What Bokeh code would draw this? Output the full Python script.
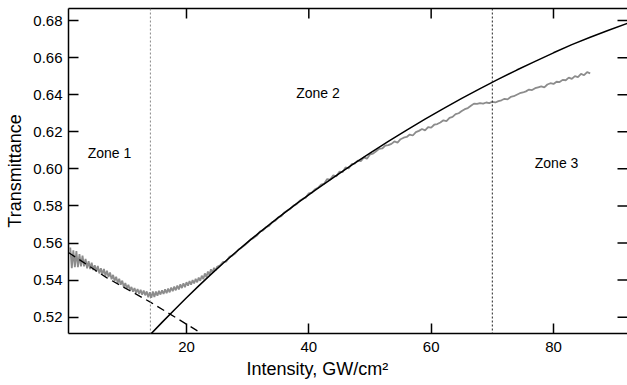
from bokeh.plotting import figure
from bokeh.models import Range1d, LinearAxis, FixedTicker, Label, Span, PrintfTickFormatter, Title
from bokeh.embed import file_html
from bokeh.resources import INLINE

# ---- data ----
x_ticks = [20, 40, 60, 80]
y_ticks = [0.52, 0.54, 0.56, 0.58, 0.60, 0.62, 0.64, 0.66, 0.68]

x_min, x_max = 0.71, 92.1
y_min, y_max = 0.5112, 0.6865

zone_bounds = [14.1, 70.0]
zone_names = ["Zone 1", "Zone 2", "Zone 3"]
zone_label_x = [7.4, 41.5, 80.5]
zone_label_y = [0.6086, 0.6409, 0.6032]

# measured transmittance (grey): every 0.25 GW/cm2 from 1.0 to 24.75 ...
gray1_start, gray1_step = 1.0, 0.25
gray1_y = [
    0.5576, 0.5464, 0.5561, 0.5470, 0.5556, 0.5470, 0.5540, 0.5474,
    0.5532, 0.5474, 0.5514, 0.5464, 0.5502, 0.5460, 0.5494, 0.5454,
    0.5480, 0.5445, 0.5476, 0.5436, 0.5464, 0.5431, 0.5460, 0.5424,
    0.5451, 0.5417, 0.5441, 0.5405, 0.5428, 0.5395, 0.5418, 0.5385,
    0.5407, 0.5375, 0.5397, 0.5363, 0.5384, 0.5355, 0.5375, 0.5345,
    0.5363, 0.5338, 0.5357, 0.5331, 0.5352, 0.5326, 0.5348, 0.5321,
    0.5344, 0.5318, 0.5339, 0.5308, 0.5335, 0.5305, 0.5339, 0.5309,
    0.5338, 0.5316, 0.5342, 0.5322, 0.5345, 0.5325, 0.5350, 0.5330,
    0.5354, 0.5334, 0.5360, 0.5340, 0.5365, 0.5345, 0.5371, 0.5350,
    0.5377, 0.5357, 0.5383, 0.5362, 0.5389, 0.5370, 0.5395, 0.5375,
    0.5400, 0.5382, 0.5407, 0.5388, 0.5414, 0.5396, 0.5424, 0.5405,
    0.5436, 0.5416, 0.5446, 0.5428, 0.5458, 0.5440, 0.5466, 0.5452,
]
# ... then every 0.5 GW/cm2 from 25.0 to 86.0
gray2_start, gray2_step = 25.0, 0.5
gray2_y = [
    0.5472, 0.5480,
    0.5498, 0.5500, 0.5525, 0.5532, 0.5545, 0.5565, 0.5575, 0.5588, 0.5602, 0.5620,
    0.5628, 0.5640, 0.5662, 0.5668, 0.5685, 0.5692, 0.5712, 0.5720, 0.5738, 0.5745,
    0.5765, 0.5775, 0.5785, 0.5802, 0.5810, 0.5828, 0.5838, 0.5845, 0.5868, 0.5872,
    0.5890, 0.5898, 0.5915, 0.5920, 0.5945, 0.5942, 0.5965, 0.5960, 0.5985, 0.5982,
    0.6008, 0.6002, 0.6025, 0.6028, 0.6045, 0.6042, 0.6062, 0.6055, 0.6078, 0.6082,
    0.6095, 0.6108, 0.6110, 0.6125, 0.6128, 0.6135, 0.6148, 0.6142, 0.6160, 0.6168,
    0.6172, 0.6185, 0.6180, 0.6198, 0.6205, 0.6215, 0.6208, 0.6225, 0.6222, 0.6238,
    0.6242, 0.6250, 0.6262, 0.6258, 0.6275, 0.6280, 0.6295, 0.6300, 0.6312, 0.6322,
    0.6328, 0.6340, 0.6352, 0.6350, 0.6355, 0.6352, 0.6358, 0.6355, 0.6362, 0.6358,
    0.6365, 0.6370, 0.6378, 0.6375, 0.6388, 0.6392, 0.6400, 0.6408, 0.6412, 0.6418,
    0.6428, 0.6425, 0.6435, 0.6440, 0.6445, 0.6440, 0.6455, 0.6462, 0.6458, 0.6470,
    0.6468, 0.6480, 0.6478, 0.6492, 0.6485, 0.6500, 0.6495, 0.6512, 0.6505, 0.6522,
    0.6515,
]
gray_x = ([round(gray1_start + gray1_step * i, 3) for i in range(len(gray1_y))]
          + [round(gray2_start + gray2_step * i, 3) for i in range(len(gray2_y))])
gray_y = gray1_y + gray2_y

# model fit (solid black)
fit_x = [14.2, 16, 18, 20, 22, 24, 26, 28, 30, 32, 35, 38, 41, 44, 47, 50, 53, 56,
         59, 62, 65, 68, 71, 74, 77, 80, 83, 86, 89, 92.5]
fit_y = [0.5110, 0.5172, 0.5239, 0.5305, 0.5369, 0.5431, 0.5491, 0.5549, 0.5605,
         0.5659, 0.5737, 0.5812, 0.5884, 0.5953, 0.6020, 0.6085, 0.6148, 0.6209,
         0.6268, 0.6325, 0.6380, 0.6433, 0.6484, 0.6533, 0.6580, 0.6626, 0.6670,
         0.6710, 0.6748, 0.6790]

# low-intensity fit (dashed)
dash_x = [0.7, 7.0, 14.1, 23.0]
dash_y = [0.5549, 0.5412, 0.5281, 0.5102]

x_label = "Intensity, GW/cm\u00b2"
y_label = "Transmittance"

FONT = "Liberation Sans"

p = figure(width=627, height=385, output_backend="svg", toolbar_location=None,
           x_range=Range1d(x_min, x_max), y_range=Range1d(y_min, y_max),
           min_border_left=68, min_border_right=0, min_border_top=8, min_border_bottom=52)
p.outline_line_color = None
p.xgrid.visible = False
p.ygrid.visible = False
p.background_fill_color = "white"
p.border_fill_color = "white"

def style_axis(ax):
    ax.axis_line_color = "black"
    ax.axis_line_width = 1.5
    ax.major_tick_line_color = "black"
    ax.major_tick_line_width = 1.5
    ax.major_tick_in = 10
    ax.major_tick_out = 0
    ax.minor_tick_line_color = None
    ax.major_label_text_font = FONT
    ax.major_label_text_color = "black"
    ax.major_label_text_font_size = "15px"

xa = p.xaxis[0]
xa.ticker = FixedTicker(ticks=x_ticks)
style_axis(xa)
xa.major_label_standoff = 8

ya = p.yaxis[0]
ya.ticker = FixedTicker(ticks=y_ticks)
ya.formatter = PrintfTickFormatter(format="%.2f")
style_axis(ya)
ya.major_label_standoff = 6
ya.axis_label = y_label
ya.axis_label_text_font = FONT
ya.axis_label_text_font_size = "18px"
ya.axis_label_text_font_style = "normal"
ya.axis_label_text_color = "black"
ya.axis_label_standoff = 5

# top frame line (no labels)
top = LinearAxis(ticker=FixedTicker(ticks=[]))
top.axis_line_color = "black"
top.axis_line_width = 1.5
top.major_tick_line_color = None
top.minor_tick_line_color = None
top.major_label_standoff = 0
p.add_layout(top, "above")

# mirrored inward ticks on top and right
p.ray(x=x_ticks, y=[y_max] * len(x_ticks), length=10, angle=-90, angle_units="deg",
      length_units="screen", line_color="black", line_width=1.5)
p.ray(x=[x_max] * len(y_ticks), y=y_ticks, length=10, angle=180, angle_units="deg",
      length_units="screen", line_color="black", line_width=1.5)

# x-axis title
p.add_layout(Title(text=x_label, align="left", offset=178, text_font=FONT,
                   text_font_size="18px", text_font_style="normal", text_color="black",
                   standoff=5), "below")

# zone boundaries
p.add_layout(Span(location=zone_bounds[0], dimension="height", line_color="#888888",
                  line_width=1, line_dash="2 2"))
p.add_layout(Span(location=zone_bounds[1], dimension="height", line_color="#222222",
                  line_width=1, line_dash="2 2"))

p.line(gray_x, gray_y, line_color="#8c8c8c", line_width=1.8)
p.line(dash_x, dash_y, line_color="black", line_width=1.3, line_dash="8 5")
p.line(fit_x, fit_y, line_color="black", line_width=1.5)

for name, zx, zy in zip(zone_names, zone_label_x, zone_label_y):
    p.add_layout(Label(x=zx, y=zy, text=name, text_align="center", text_baseline="middle",
                       text_font=FONT, text_font_size="14px", text_color="black"))

open("out.html", "w").write(file_html(p, INLINE))
